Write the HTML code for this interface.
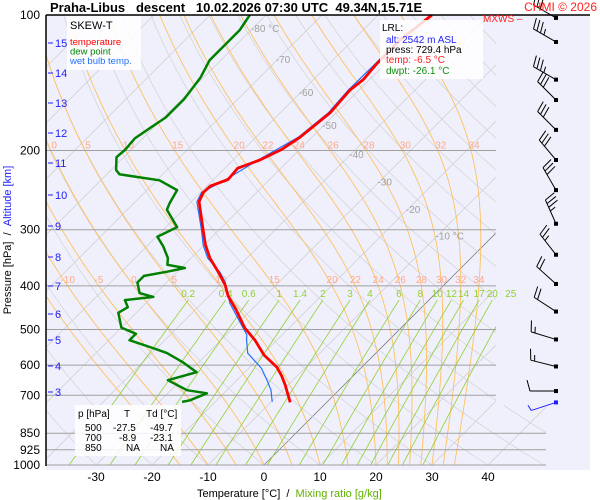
<!DOCTYPE html>
<html><head><meta charset="utf-8">
<style>
html,body{margin:0;padding:0;background:#fff;}
svg{display:block;font-family:"Liberation Sans",Arial,sans-serif;}
</style></head>
<body>
<svg id="chart" width="600" height="500" viewBox="0 0 600 500">
  <defs>
    <clipPath id="plotclip"><polygon points="46,15 496,15 496,405 546,405 546,465 46,465"/></clipPath>
  </defs>
  <rect x="46" y="15" width="544" height="455" fill="#f0f0fc"/>
  <g id="grid" clip-path="url(#plotclip)"></g>
  <g id="hlines"></g>
  <g id="gridlabels"></g>
  <g id="series" clip-path="url(#plotclip)"></g>
  <g id="barbs"></g>
  <g id="axes"></g>

  <text x="50" y="12" font-size="13" font-weight="bold" fill="#000">Praha-Libus&#160;&#160;&#160;descent&#160;&#160;&#160;10.02.2026 07:30 UTC&#160;&#160;49.34N,15.71E</text>
  <text x="597" y="11" font-size="12" fill="#ff2020" text-anchor="end">CHMI © 2026</text>
  <text x="483" y="22" font-size="10" fill="#ff2020">MXWS –</text>

  <g>
    <rect x="67" y="16" width="74" height="54" fill="#fff" fill-opacity="0.85"/>
    <text x="70" y="29" font-size="11" fill="#000">SKEW-T</text>
    <text x="70" y="45" font-size="9.5" fill="#ff0000">temperature</text>
    <text x="70" y="54.5" font-size="9.5" fill="#008000">dew point</text>
    <text x="70" y="64" font-size="9.5" fill="#2070ff">wet bulb temp.</text>
  </g>

  <g>
    <rect x="380" y="20" width="103" height="59" fill="#fff" fill-opacity="0.85"/>
    <text x="382" y="31" font-size="10" fill="#000">LRL:</text>
    <text x="386" y="43" font-size="10" fill="#2020ff">alt: 2542 m ASL</text>
    <text x="386" y="53" font-size="10" fill="#000">press: 729.4 hPa</text>
    <text x="386" y="63" font-size="10" fill="#ff2020">temp: -6.5 °C</text>
    <text x="386" y="74" font-size="10" fill="#109010">dwpt: -26.1 °C</text>
  </g>

  <g>
    <rect x="75" y="405" width="106" height="51" fill="#fff" fill-opacity="0.85"/>
    <text x="78" y="417" font-size="10" fill="#000"><tspan x="78">p [hPa]</tspan><tspan x="124">T</tspan><tspan x="146">Td [°C]</tspan></text>
    <text font-size="10" fill="#000" y="431"><tspan x="85">500</tspan><tspan x="113">-27.5</tspan><tspan x="150">-49.7</tspan></text>
    <text font-size="10" fill="#000" y="441"><tspan x="85">700</tspan><tspan x="119">-8.9</tspan><tspan x="150">-23.1</tspan></text>
    <text font-size="10" fill="#000" y="451"><tspan x="85">850</tspan><tspan x="126">NA</tspan><tspan x="160">NA</tspan></text>
  </g>

  <text x="197" y="497" font-size="11" fill="#000">Temperature [°C]&#160;&#160;/&#160;&#160;<tspan fill="#60b000">Mixing ratio [g/kg]</tspan></text>
  <text transform="translate(11,240) rotate(-90)" font-size="11" text-anchor="middle" fill="#000">Pressure [hPa]&#160;&#160;/&#160;&#160;<tspan fill="#2020ff">Altitude [km]</tspan></text>
</svg>
<script>
// ---- data ----
const tempP = [726,664,632,606,570,528,496,452,421,398,372,347,324,300,260,248,240,232,219,210,199,187,165,147,139,129,114,100];
const tempT = [-6.5,-10.5,-12.9,-15.2,-19.6,-23.9,-27.9,-32.7,-36.6,-39.1,-42.7,-46.6,-49.8,-52.9,-58.6,-59.5,-59.4,-57.4,-57.7,-55.2,-53.2,-52.1,-51.1,-51.6,-51.1,-51.5,-51.6,-50.4];
const dewP = [724,718,693,682,648,622,590,564,551,528,511,495,459,446,430,423,415,393,380,372,365,359,347,327,311,296,271,262,245,233,226,221,207,199,188,178,169,154,138,126,117,108,100];
const dewT = [-25.9,-24.8,-23.0,-27.1,-32.3,-28.6,-33.0,-37.3,-40.4,-46.3,-46.3,-50.0,-53.2,-52.5,-54.3,-49.8,-52.9,-55.2,-55.2,-51.8,-49.3,-53.0,-54.1,-57.0,-59.8,-58.0,-62.9,-63.6,-64.6,-69.5,-77.7,-79.1,-81.3,-81.1,-81.4,-80.5,-79.6,-79.6,-80.5,-82.0,-82.0,-82.0,-82.9];
const wbP = [724,682,648,610,564,528,514,437,393,374,347,324,300,260,248,232,210,187,165,147,129,114];
const wbT = [-9.8,-12.1,-14.6,-17.7,-22.9,-25.4,-26.3,-35.0,-39.5,-42.1,-47.0,-50.2,-53.2,-59.0,-59.8,-57.8,-55.5,-52.4,-51.4,-51.9,-51.8,-51.8];
const windP = [101.5,114.8,139.2,154.5,180,210,245,291,341,396,456,526,604,685,726];
const windDir = [300,300,300,315,315,320,330,336,322,312,303,287,284,270,252];
const windSpd = [30,35,35,30,30,30,30,35,25,20,20,15,15,10,5];
const pressureTicks = [100,200,300,400,500,600,700,850,925,1000];
const tempTicks = [-30,-20,-10,0,10,20,30,40];
const altKm = [15,14,13,12,11,10,9,8,7,6,5,4,3];
const altY = [43,73,103,133,163,195,226,257,286,314,340,366,392];
const mixRatios = [0.2,0.4,0.6,1,1.4,2,3,4,6,8,10,12,14,17,20,25];
const moistThetaW = [-15,-10,-5,0,5,10,15,20,22,24,26,28,30,32,34];
const moistLabels200 = [0,5,10,15,20,22,24,26,28,30,32,34];
const moistLabels400 = [-10,-5,0,5,10,15,20,22,24,26,28,30,32,34];
const isoLabelT = [-80,-70,-60,-50,-40,-30,-20,-10];
const isoLabelP = [106.9,125.4,148.4,175.4,203.4,234.5,270,309];

// ---- scales ----
const yP = p => 15 + 450*Math.log10(p/100);
const xT = (T,p) => 264 + 5.6*T + (465 - yP(p));
const NS = "http://www.w3.org/2000/svg";
function mk(tag, attrs, parent){ const e=document.createElementNS(NS,tag); for(const k in attrs) e.setAttribute(k,attrs[k]); parent.appendChild(e); return e; }
const grid=document.getElementById('grid'), hl=document.getElementById('hlines'), gl=document.getElementById('gridlabels'), ser=document.getElementById('series'), barbs=document.getElementById('barbs'), axes=document.getElementById('axes');
function pathFrom(ps, ts){ return ps.map((p,i)=>(i?'L':'M')+xT(ts[i],p).toFixed(1)+','+yP(p).toFixed(1)).join(''); }

for(let T=-150;T<=40;T+=10){
  const l=mk('line',{x1:xT(T,1000),y1:yP(1000),x2:xT(T,100),y2:yP(100),stroke:T===0?'#808080':'#cccccc','stroke-width':T===0?0.8:0.7},grid);
  
  
}
for(let th=-40;th<=250;th+=10){
  const ps=[],ts=[];
  for(let p=1000;p>=100;p-=10){ps.push(p);ts.push((th+273.15)*Math.pow(p/1000,0.2857)-273.15);}
  const l=mk('path',{d:pathFrom(ps,ts),fill:'none',stroke:'#d2d2d2','stroke-width':0.7},grid);
  
  
}
function es(Tc){return 6.112*Math.exp(17.67*Tc/(Tc+243.5));}
function moist(tw){
  const ps=[],ts=[]; let T=tw+273.15;
  for(let p=1000;p>=100;p-=2){
    ps.push(p);ts.push(T-273.15);
    const e=es(T-273.15), rs=0.622*e/(p-e);
    const num=287*T+2.5e6*rs, den=1004+(2.5e6*2.5e6*rs*0.622)/(287*T*T);
    T += (num/den)/p*(-2);
  }
  return [ps,ts];
}
const moistCurves={};
moistThetaW.forEach(tw=>{
  const [ps,ts]=moist(tw); moistCurves[tw]=[ps,ts];
  const l=mk('path',{d:pathFrom(ps,ts),fill:'none',stroke:'#ffc060','stroke-width':0.9},grid);
  
  
});
function curveX(tw,p){const [ps,ts]=moistCurves[tw]; let i=ps.findIndex(q=>q<=p); if(i<0)i=ps.length-1; return xT(ts[i],ps[i]);}
moistLabels200.forEach(tw=>{
  const t=mk('text',{x:curveX(tw,200)+3,y:yP(200)-2,'font-size':10,fill:'#ffa888','text-anchor':'middle'},gl);
  t.textContent=tw;
  
  
});
moistLabels400.forEach(tw=>{
  const t=mk('text',{x:curveX(tw,400),y:yP(400)-3,'font-size':10,fill:'#ffa888','text-anchor':'middle'},gl);
  t.textContent=tw;
  
  
});
function tdFromW(w,p){const e=w*p/(622+w); const L=Math.log(e/6.112); return 243.5*L/(17.67-L);}
mixRatios.forEach(w=>{
  const ps=[],ts=[];
  for(let p=1000;p>=430;p-=10){ps.push(p);ts.push(tdFromW(w,p));}
  const l=mk('path',{d:pathFrom(ps,ts),fill:'none',stroke:'#90d030','stroke-width':0.8},grid);
  
  
  const t=mk('text',{x:xT(tdFromW(w,430),430),y:yP(430)-3,'font-size':10,fill:'#90d030','text-anchor':'middle'},gl);
  t.textContent=w;
  
  
});
isoLabelT.forEach((T,i)=>{
  const p=isoLabelP[i];
  const t=mk('text',{x:xT(T,p)-2,y:yP(p)+4,'font-size':10,fill:'#a0a0a0'},gl);
  t.textContent=(T===-80||T===-10)?T+' °C':String(T);
  
  
});
pressureTicks.forEach(p=>{
  const y=yP(p); const xr=p>=850?546:496;
  if(p>100){
    const l=mk('line',{x1:46,y1:y,x2:xr,y2:y,stroke:'#a0a0a0','stroke-width':1},hl);
    
    
  }
  const t=mk('text',{x:40,y:y+4,'font-size':12,fill:'#000','text-anchor':'end'},axes);
  t.textContent=p;
  
  
});
tempTicks.forEach(T=>{
  const t=mk('text',{x:xT(T,1000),y:481,'font-size':12,fill:'#000','text-anchor':'middle'},axes);
  t.textContent=T;
  
  
});
altKm.forEach((k,i)=>{
  const l=mk('line',{x1:48,y1:altY[i],x2:53,y2:altY[i],stroke:'#2020ff','stroke-width':1},axes);
  
  
  const t=mk('text',{x:55,y:altY[i]+4,'font-size':11,fill:'#2020ff'},axes);
  t.textContent=k;
  
  
});
const ax=mk('line',{x1:46,y1:15,x2:46,y2:466,stroke:'#000','stroke-width':1.5},axes);


const tx=mk('line',{x1:46,y1:15,x2:590,y2:15,stroke:'#000','stroke-width':1.5},axes);



const wb=mk('path',{d:pathFrom(wbP,wbT),fill:'none',stroke:'#2070ff','stroke-width':1.2},ser);


const tl=mk('path',{d:pathFrom(tempP,tempT),fill:'none',stroke:'#ff0000','stroke-width':2.8,'stroke-linejoin':'round'},ser);


const dl=mk('path',{d:pathFrom(dewP,dewT),fill:'none',stroke:'#008000','stroke-width':2.5,'stroke-linejoin':'round'},ser);



windP.forEach((p,i)=>{
  const y=yP(p), x=556, a=windDir[i]*Math.PI/180;
  const sx=Math.sin(a), sy=-Math.cos(a);
  const col=i===windP.length-1?'#2020ff':'#000';
  const L=26, ex=x+sx*L, ey=y+sy*L;
  const g=mk('g',{},barbs);
  
  
  mk('line',{x1:x,y1:y,x2:ex,y2:ey,stroke:col,'stroke-width':1},g);
  mk('rect',{x:x-2,y:y-2,width:4,height:4,fill:col},g);
  let s=windSpd[i], k=0;
  const fx=-sy, fy=sx;
  while(s>=10){const bx=ex-sx*k*4, by=ey-sy*k*4; mk('line',{x1:bx,y1:by,x2:bx+fx*11+sx*3,y2:by+fy*11+sy*3,stroke:col,'stroke-width':1},g); s-=10;k++;}
  if(s>=5){const bx=ex-sx*k*4, by=ey-sy*k*4; mk('line',{x1:bx,y1:by,x2:bx+fx*6+sx*1.5,y2:by+fy*6+sy*1.5,stroke:col,'stroke-width':1},g);}
});
</script>
</body></html>
